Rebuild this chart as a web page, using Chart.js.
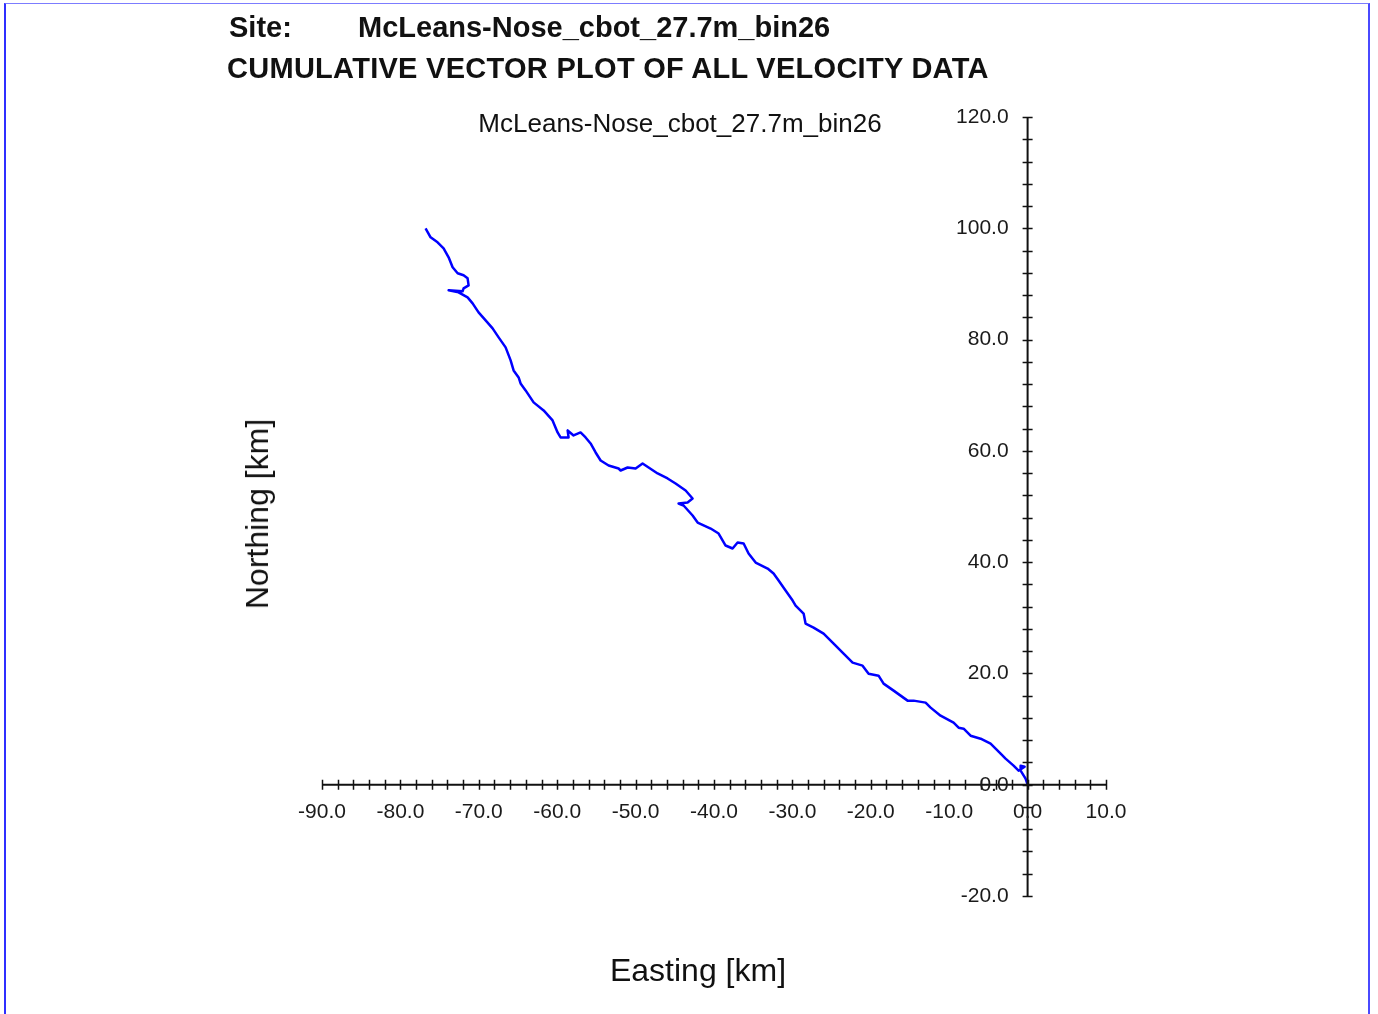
<!DOCTYPE html>
<html>
<head>
<meta charset="utf-8">
<title>Cumulative vector plot</title>
<script src="https://cdn.jsdelivr.net/npm/chart.js@4/dist/chart.umd.min.js"></script>
<style>
  html, body { margin: 0; padding: 0; background: #fff; }
  body { width: 1378px; height: 1014px; position: relative; overflow: hidden;
         font-family: "Liberation Sans", Arial, sans-serif; color: #111; }
  #frame { position: absolute; left: 4px; top: 3px; width: 1366px; height: 1020px;
           border-top: 1px solid #7c7cff; border-left: 2px solid #2f2fff; border-right: 2px solid #4a4aff;
           box-sizing: border-box; }
  #plot { position: absolute; left: 0; top: 0; }
  .t { position: absolute; white-space: nowrap; line-height: 1; }
  .head { font-size: 29px; font-weight: bold; }
</style>
</head>
<body>
<div id="frame"></div>
<canvas id="plot" width="1378" height="1014"></canvas>
<div class="t head" style="left:229px; top:13px;">Site:</div>
<div class="t head" style="left:358px; top:13px;">McLeans-Nose_cbot_27.7m_bin26</div>
<div class="t head" style="left:227px; top:54px; letter-spacing:0.28px;">CUMULATIVE VECTOR PLOT OF ALL VELOCITY DATA</div>
<div class="t" style="left:680px; top:110px; font-size:26px; transform:translateX(-50%);">McLeans-Nose_cbot_27.7m_bin26</div>
<div class="t" style="left:698px; top:954px; font-size:32px; transform:translateX(-50%);">Easting [km]</div>
<div class="t" style="left:257px; top:514px; font-size:32px; transform:translate(-50%,-50%) rotate(-90deg);">Northing [km]</div>
<script>
// Cumulative displacement of the current (progressive vector), km from the mooring.
const eastKm = [
  0, -0.26, -0.89, -0.89, -0.38, -1.15, -1.79, -2.81, -3.44, -4.72,
  -5.99, -7.27, -8.16, -8.80, -9.44, -11.10, -12.37, -13.01, -14.54, -15.31,
  -16.20, -17.09, -18.37, -19.01, -20.28, -21.05, -22.32, -23.47, -24.74, -26.02,
  -27.30, -28.32, -28.57, -29.59, -29.97, -30.87, -31.76, -32.40, -33.16, -34.69,
  -35.59, -36.22, -36.99, -37.63, -38.52, -39.41, -40.43, -42.09, -42.73, -43.88,
  -44.52, -43.37, -42.73, -43.62, -44.90, -45.92, -47.19, -48.34, -49.11, -50.00,
  -51.02, -51.91, -52.17, -53.44, -54.46, -55.10, -55.74, -56.38, -57.02, -57.91,
  -58.67, -58.55, -59.57, -59.95, -60.59, -61.73, -63.01, -64.03, -64.67, -64.92,
  -65.56, -65.94, -66.58, -67.47, -68.24, -69.13, -70.03, -70.79, -71.43, -72.58,
  -73.85, -72.07, -71.94, -71.30, -71.43, -71.94, -72.70, -73.34, -73.85, -74.49,
  -75.26, -76.15, -76.79
];
const northKm = [
  0, 1.08, 2.52, 3.42, 3.24, 2.52, 3.42, 4.68, 5.58, 7.37,
  8.27, 8.81, 10.07, 10.25, 11.15, 12.41, 13.85, 14.75, 15.11, 15.11,
  16.01, 16.91, 18.17, 19.60, 19.96, 21.40, 21.94, 23.56, 25.36, 27.16,
  28.24, 28.96, 30.76, 32.19, 33.09, 34.89, 36.69, 37.95, 38.85, 39.93,
  41.55, 43.35, 43.53, 42.45, 42.99, 45.14, 46.04, 47.12, 48.38, 50.18,
  50.54, 50.72, 51.44, 52.88, 54.14, 55.04, 55.94, 57.01, 57.73, 56.83,
  57.01, 56.47, 56.83, 57.37, 58.27, 59.71, 61.33, 62.41, 63.31, 62.77,
  63.67, 62.41, 62.41, 63.31, 65.47, 67.27, 68.71, 70.86, 72.12, 73.20,
  74.46, 76.26, 78.60, 80.40, 82.01, 83.45, 84.89, 86.51, 87.59, 88.49,
  88.85, 88.67, 89.21, 89.75, 91.01, 91.55, 91.91, 93.01, 94.78, 96.40,
  97.48, 98.38, 100.00
];

// Axis ranges and labelled ticks
const xRange = [-90, 10];
const yRange = [-20, 120];
const xTickLabels = [-90, -80, -70, -60, -50, -40, -30, -20, -10, 0, 10];
const yTickLabels = [-20, 0, 20, 40, 60, 80, 100, 120];
const xMinorStep = 2;
const yMinorStep = 4;

const points = eastKm.map((e, i) => ({ x: e, y: northKm[i] }));

// Axes crossing at the origin, with ticks straddling each axis line
const crossAxes = {
  id: 'crossAxes',
  afterDatasetsDraw(chart) {
    const { ctx, scales: { x, y } } = chart;
    const x0 = x.getPixelForValue(0);
    const y0 = y.getPixelForValue(0);
    const half = 5;
    ctx.save();
    ctx.strokeStyle = '#111';
    ctx.lineCap = 'butt';
    ctx.lineWidth = 2;
    ctx.beginPath();
    ctx.moveTo(x.getPixelForValue(xRange[0]), y0);
    ctx.lineTo(x.getPixelForValue(xRange[1]), y0);
    ctx.moveTo(x0, y.getPixelForValue(yRange[0]));
    ctx.lineTo(x0, y.getPixelForValue(yRange[1]));
    ctx.stroke();
    ctx.lineWidth = 1.5;
    ctx.beginPath();
    for (let v = xRange[0]; v <= xRange[1] + 1e-9; v += xMinorStep) {
      const px = Math.round(x.getPixelForValue(v)) + 0.5;
      ctx.moveTo(px, y0 - half);
      ctx.lineTo(px, y0 + half);
    }
    for (let v = yRange[0]; v <= yRange[1] + 1e-9; v += yMinorStep) {
      const py = Math.round(y.getPixelForValue(v)) + 0.5;
      ctx.moveTo(x0 - half, py);
      ctx.lineTo(x0 + half, py);
    }
    ctx.stroke();
    ctx.fillStyle = '#1a1a1a';
    ctx.font = '21px "Liberation Sans", Arial, sans-serif';
    ctx.textAlign = 'center';
    ctx.textBaseline = 'middle';
    xTickLabels.forEach(v => {
      ctx.fillText(v.toFixed(1), x.getPixelForValue(v), y0 + 27);
    });
    ctx.textAlign = 'right';
    yTickLabels.forEach(v => {
      ctx.fillText(v.toFixed(1), x0 - 19, y.getPixelForValue(v));
    });
    ctx.restore();
  }
};

new Chart(document.getElementById('plot'), {
  type: 'scatter',
  data: {
    datasets: [{
      data: points,
      showLine: true,
      borderColor: '#0000ff',
      backgroundColor: '#0000ff',
      borderWidth: 2.5,
      borderJoinStyle: 'round',
      pointRadius: 0,
      tension: 0
    }]
  },
  options: {
    responsive: false,
    animation: false,
    devicePixelRatio: 1,
    layout: { padding: { left: 322, right: 272, top: 117, bottom: 118 } },
    plugins: { legend: { display: false }, tooltip: { enabled: false }, title: { display: false } },
    scales: {
      x: { type: 'linear', min: xRange[0], max: xRange[1], display: false },
      y: { type: 'linear', min: yRange[0], max: yRange[1], display: false }
    }
  },
  plugins: [crossAxes]
});
</script>
</body>
</html>
